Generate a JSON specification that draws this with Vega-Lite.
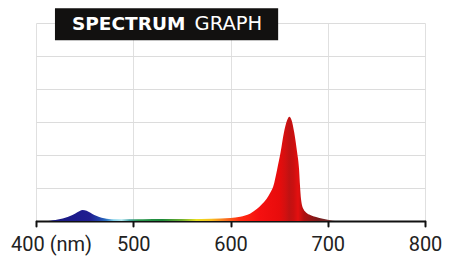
{
  "$schema": "https://vega.github.io/schema/vega-lite/v6.json",
  "width": 389,
  "height": 198,
  "autosize": {"type": "none"},
  "padding": {"left": 36, "top": 23, "right": 24, "bottom": 36},
  "background": "white",
  "config": {
    "view": {"stroke": null},
    "axisY": {"gridColor": "#dcdcdc", "gridWidth": 1}
  },
  "datasets": {
    "spectrum": [
      {"wl": 410, "v": 0},
      {"wl": 415, "v": 0.01},
      {"wl": 420, "v": 0.03},
      {"wl": 425, "v": 0.06},
      {"wl": 430, "v": 0.1},
      {"wl": 435, "v": 0.15},
      {"wl": 440, "v": 0.22},
      {"wl": 445, "v": 0.3},
      {"wl": 448, "v": 0.33},
      {"wl": 452, "v": 0.31},
      {"wl": 456, "v": 0.25},
      {"wl": 460, "v": 0.18},
      {"wl": 465, "v": 0.12},
      {"wl": 470, "v": 0.08},
      {"wl": 475, "v": 0.06},
      {"wl": 480, "v": 0.05},
      {"wl": 490, "v": 0.05},
      {"wl": 500, "v": 0.05},
      {"wl": 520, "v": 0.06},
      {"wl": 540, "v": 0.06},
      {"wl": 560, "v": 0.06},
      {"wl": 580, "v": 0.07},
      {"wl": 600, "v": 0.09},
      {"wl": 610, "v": 0.13},
      {"wl": 615, "v": 0.17},
      {"wl": 620, "v": 0.22},
      {"wl": 627, "v": 0.36},
      {"wl": 632, "v": 0.5},
      {"wl": 637, "v": 0.67},
      {"wl": 641, "v": 0.86},
      {"wl": 644, "v": 1.05},
      {"wl": 648, "v": 1.57},
      {"wl": 651.5, "v": 2.08},
      {"wl": 655, "v": 2.69},
      {"wl": 658, "v": 3.04},
      {"wl": 660.5, "v": 3.16},
      {"wl": 663, "v": 3.04},
      {"wl": 665.5, "v": 2.69},
      {"wl": 668.5, "v": 2.08},
      {"wl": 670.5, "v": 1.57},
      {"wl": 671.5, "v": 1.05},
      {"wl": 672.5, "v": 0.67},
      {"wl": 675, "v": 0.36},
      {"wl": 678, "v": 0.25},
      {"wl": 682, "v": 0.18},
      {"wl": 688, "v": 0.12},
      {"wl": 695, "v": 0.07},
      {"wl": 700, "v": 0.04},
      {"wl": 705, "v": 0.01},
      {"wl": 710, "v": 0}
    ],
    "titlebox": [{"x": 419.5, "x2": 649, "y": 5.48, "y2": 6.45}],
    "boldword": [{"x": 437, "y": 5.97, "word": "SPECTRUM"}],
    "regularword": [{"x": 563, "y": 5.97, "word": "GRAPH"}]
  },
  "layer": [
    {
      "data": {"name": "titlebox"},
      "mark": {"type": "rect", "color": "#121110"},
      "encoding": {
        "x": {"field": "x", "type": "quantitative", "scale": {"domain": [400, 800]},
          "axis": {
            "values": [400, 500, 600, 700, 800],
            "title": null,
            "grid": true,
            "gridColor": "#e0e0e0",
            "gridWidth": 1,
            "domainColor": "#111111",
            "domainWidth": 2,
            "tickColor": "#111111",
            "tickWidth": 2,
            "tickSize": 5,
            "tickCap": "round",
            "labelFont": "Roboto",
            "labelFontSize": 20,
            "labelColor": "#222222",
            "labelPadding": 8,
            "labelFlush": false,
            "labelOverlap": false,
            "labelBound": false,
            "labelOffset": {"condition": {"test": "datum.value == 400", "value": 15}, "value": 0},
            "labelExpr": "datum.value == 400 ? '400 (nm)' : datum.label"
          }
        },
        "x2": {"field": "x2"},
        "y": {"field": "y", "type": "quantitative", "scale": {"domain": [0, 6]},
          "axis": {
            "values": [0, 1, 2, 3, 4, 5, 6],
            "tickCount": 7,
            "title": null,
            "labels": false,
            "ticks": false,
            "domain": false,
            "grid": true
          }
        },
        "y2": {"field": "y2"}
      }
    },
    {
      "data": {"name": "spectrum"},
      "mark": {
        "type": "area",
        "interpolate": "monotone",
        "y2Offset": -1,
        "color": {
          "gradient": "linear",
          "x1": 0, "y1": 0, "x2": 1, "y2": 0,
          "stops": [
            {"offset": 0, "color": "#1a1a7a"},
            {"offset": 0.1, "color": "#1c1a8c"},
            {"offset": 0.15, "color": "#201e90"},
            {"offset": 0.183, "color": "#2040a8"},
            {"offset": 0.207, "color": "#2a70c0"},
            {"offset": 0.233, "color": "#80d0e8"},
            {"offset": 0.26, "color": "#b0e8f0"},
            {"offset": 0.287, "color": "#40a0a0"},
            {"offset": 0.317, "color": "#2a9850"},
            {"offset": 0.4, "color": "#1e8a3a"},
            {"offset": 0.467, "color": "#70b030"},
            {"offset": 0.517, "color": "#e8e020"},
            {"offset": 0.567, "color": "#f8c020"},
            {"offset": 0.617, "color": "#f87020"},
            {"offset": 0.667, "color": "#ff2a10"},
            {"offset": 0.733, "color": "#f51010"},
            {"offset": 0.8, "color": "#e80c0c"},
            {"offset": 0.82, "color": "#d41010"},
            {"offset": 0.835, "color": "#c01212"},
            {"offset": 0.85, "color": "#cc1010"},
            {"offset": 0.865, "color": "#e41010"},
            {"offset": 0.885, "color": "#b01010"},
            {"offset": 0.933, "color": "#7a1a1a"},
            {"offset": 1, "color": "#604040"}
          ]
        }
      },
      "encoding": {
        "x": {"field": "wl", "type": "quantitative"},
        "y": {"field": "v", "type": "quantitative",
          "axis": {
            "values": [0, 1, 2, 3, 4, 5, 6],
            "tickCount": 7,
            "title": null,
            "labels": false,
            "ticks": false,
            "domain": false,
            "grid": true
          }
        }
      }
    },
    {
      "data": {"name": "boldword"},
      "mark": {"type": "text", "align": "left", "baseline": "middle", "color": "white", "font": "DejaVu Sans", "fontSize": 18.5, "fontWeight": "bold"},
      "encoding": {
        "x": {"field": "x", "type": "quantitative"},
        "y": {"field": "y", "type": "quantitative"},
        "text": {"field": "word"}
      }
    },
    {
      "data": {"name": "regularword"},
      "mark": {"type": "text", "align": "left", "baseline": "middle", "color": "white", "font": "DejaVu Sans", "fontSize": 19.5, "fontWeight": "normal"},
      "encoding": {
        "x": {"field": "x", "type": "quantitative"},
        "y": {"field": "y", "type": "quantitative"},
        "text": {"field": "word"}
      }
    }
  ]
}
